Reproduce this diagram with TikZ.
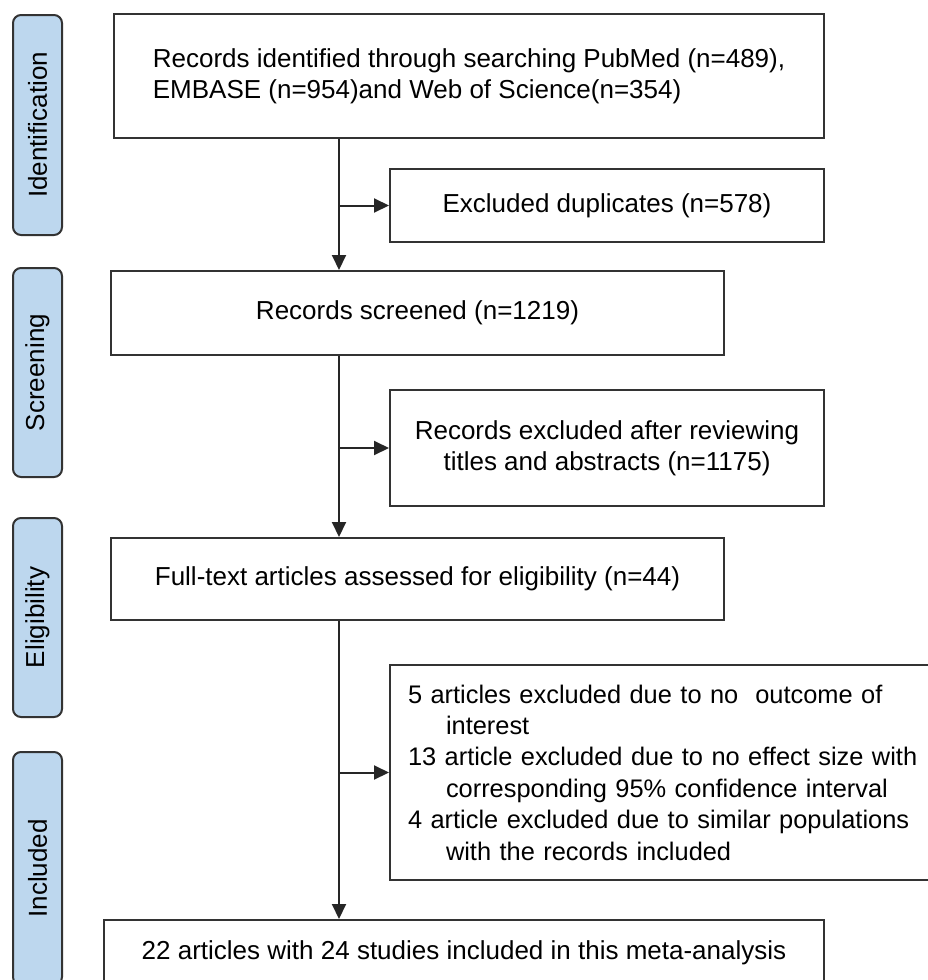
\documentclass[tikz,border=0pt]{standalone}
\usepackage{fontspec}
\setmainfont{Liberation Sans}
\usetikzlibrary{arrows.meta, positioning}
\definecolor{phasefill}{RGB}{189,215,238}
\definecolor{linegray}{RGB}{51,51,51}

\begin{document}
\begin{tikzpicture}[
  x=1pt, y=1pt,
  font=\fontsize{26}{31}\selectfont,
  box/.style={rectangle, draw=linegray, line width=2pt, fill=white,
    inner sep=0pt, align=center},
  phase/.style={rectangle, rounded corners=8pt, draw=linegray, line width=2pt,
    fill=phasefill, minimum height=49pt, inner sep=0pt, rotate=90},
  arrow/.style={-{Triangle[length=15pt, width=14pt]}, line width=2pt, draw=black!85}
]
\useasboundingbox (0,0) rectangle (927,-980);

% phase labels on the left
\node (pident) [phase, minimum width=220pt] at (37.5,-125) {Identification};
\node (pscreen) [phase, minimum width=209pt] at (37.5,-372.5) {Screening};
\node (pelig) [phase, minimum width=199pt] at (37.5,-617.5) {Eligibility};
\node (pincl) [phase, minimum width=233pt] at (37.5,-868.5) {Included};

% main column
\node (ident) [box, align=left, minimum width=710pt, minimum height=124pt, anchor=north west]
  at (113,-13) {Records identified through searching PubMed (n=489),\\EMBASE (n=954)and Web of Science(n=354)};
\node (screen) [box, minimum width=613pt, minimum height=84pt, below=131pt of ident.south west,
  anchor=north west, xshift=-3pt] {Records screened (n=1219)};
\node (elig) [box, minimum width=613pt, minimum height=82pt, below=181pt of screen.south west,
  anchor=north west] {Full-text articles assessed for eligibility (n=44)};
\node (incl) [box, minimum width=720pt, minimum height=65pt, below=298pt of elig.south west,
  anchor=north west, xshift=-7pt] {22 articles with 24 studies included in this meta-analysis};

% exclusion boxes
\node (dup) [box, minimum width=434pt, minimum height=73pt, below=29pt of ident.south east,
  anchor=north east] {Excluded duplicates (n=578)};
\node (excl1) [box, minimum width=434pt, minimum height=116pt, below=146pt of dup.south west,
  anchor=north west] {Records excluded after reviewing\\titles and abstracts (n=1175)};
\node (excl2) [box, align=left, text width=540pt, inner xsep=18pt, minimum height=215pt,
  font=\fontsize{25.4}{31.4}\selectfont, below=157pt of excl1.south west, anchor=north west]
  {5 articles excluded due to no~ outcome of\\
   \hspace*{38pt}interest\\
   13 article excluded due to no effect size with\\
   \hspace*{38pt}corresponding 95\% confidence interval\\
   4 article excluded due to similar populations\\
   \hspace*{38pt}with the records included};

\coordinate (spine) at (339,0);

\draw [arrow] (ident.south -| spine) -- (screen.north -| spine);
\draw [arrow] (spine |- dup.west) -- (dup.west);
\draw [arrow] (screen.south -| spine) -- (elig.north -| spine);
\draw [arrow] (spine |- excl1.west) -- (excl1.west);
\draw [arrow] (elig.south -| spine) -- (incl.north -| spine);
\draw [arrow] (spine |- excl2.west) -- (excl2.west);

\end{tikzpicture}
\end{document}
